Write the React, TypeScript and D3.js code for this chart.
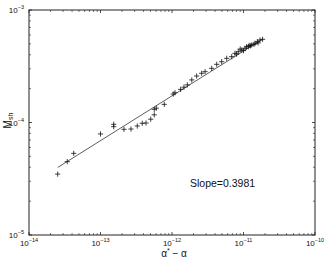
import React from "react";
import * as d3 from "d3";

const xValues = [
  2.52e-14, 3.43e-14, 4.22e-14, 1.0e-13, 1.53e-13, 1.53e-13, 2.13e-13, 2.67e-13,
  3.27e-13, 3.84e-13, 4.33e-13, 5.04e-13, 5.65e-13, 5.65e-13, 6.03e-13, 7.8e-13,
  1.04e-12, 1.1e-12, 1.32e-12, 1.47e-12, 1.64e-12, 1.89e-12, 2.21e-12, 2.6e-12,
  2.9e-12, 3.59e-12, 4.22e-12, 4.95e-12, 5.82e-12, 6.84e-12, 7.6e-12, 8.45e-12,
  9.44e-12, 1.05e-11, 1.17e-11, 1.3e-11, 1.45e-11, 1.56e-11, 1.7e-11, 1.85e-11,
  9.0e-12, 1.0e-11, 1.1e-11, 1.2e-11, 1.4e-11, 1.6e-11, 8.0e-12, 1.25e-11,
];
const yValues = [
  3.48e-5, 4.49e-5, 5.32e-5, 7.91e-5, 9.18e-5, 9.64e-5, 8.7e-5, 8.75e-5,
  9.31e-5, 9.84e-5, 9.9e-5, 1.07e-4, 1.17e-4, 1.31e-4, 1.34e-4, 1.45e-4,
  1.79e-4, 1.84e-4, 1.97e-4, 2.06e-4, 2.16e-4, 2.39e-4, 2.59e-4, 2.74e-4,
  2.83e-4, 3.03e-4, 3.29e-4, 3.47e-4, 3.72e-4, 3.85e-4, 4.12e-4, 4.26e-4,
  4.41e-4, 4.57e-4, 4.72e-4, 4.89e-4, 5.06e-4, 5.23e-4, 5.41e-4, 5.49e-4,
  4.5e-4, 4.35e-4, 4.7e-4, 4.85e-4, 4.95e-4, 5.1e-4, 4.05e-4, 4.8e-4,
];
const fitSlope = 0.3981;
const fitLogIntercept = 1.014;
const xDecades = [-14, -13, -12, -11, -10];
const yDecades = [-5, -4, -3];
const xLabelMain = "α";
const xLabelSup = "*";
const xLabelTail = " − α";
const yLabelMain = "M";
const yLabelSub = "sh";
const slopeText = "Slope=0.3981";

const W = 327;
const H = 258;
const L = 29, R = 315, T = 10, B = 235;

export default function App() {
  const x = d3.scaleLog().domain([1e-14, 1e-10]).range([L, R]);
  const y = d3.scaleLog().domain([1e-5, 1e-3]).range([B, T]);
  const ink = "#222";
  const tl = 3;

  const minorX: number[] = [];
  for (let d = -14; d < -10; d++) for (let k = 2; k <= 9; k++) minorX.push(k * Math.pow(10, d));
  const minorY: number[] = [];
  for (let d = -5; d < -3; d++) for (let k = 2; k <= 9; k++) minorY.push(k * Math.pow(10, d));

  const xmin = d3.min(xValues)!;
  const xmax = d3.max(xValues)!;
  const fit = (v: number) => Math.pow(10, fitLogIntercept + fitSlope * Math.log10(v));
  const line = d3.line<number>().x((v) => x(v)).y((v) => y(fit(v)));

  const font = "'Liberation Sans', Arial, Helvetica, sans-serif";
  const ms = 2.6;

  return (
    <svg width={W} height={H} style={{ position: "absolute", left: 0, top: 0, background: "#fff" }} fontFamily={font}>
      <rect x={0} y={0} width={W} height={H} fill="#fff" />
      <path d={line([xmin, xmax]) || ""} stroke="#333" strokeWidth={0.8} fill="none" />
      {xValues.map((xv, i) => {
        const px = x(xv), py = y(yValues[i]);
        return (
          <g key={i} stroke="#111" strokeWidth={0.8}>
            <line x1={px - ms} x2={px + ms} y1={py} y2={py} />
            <line x1={px} x2={px} y1={py - ms} y2={py + ms} />
          </g>
        );
      })}
      <rect x={L} y={T} width={R - L} height={B - T} fill="none" stroke={ink} strokeWidth={1} />
      {xDecades.map((d) => {
        const px = x(Math.pow(10, d));
        return (
          <g key={"xt" + d} stroke={ink} strokeWidth={0.8}>
            <line x1={px} x2={px} y1={B} y2={B - tl} />
            <line x1={px} x2={px} y1={T} y2={T + tl} />
          </g>
        );
      })}
      {minorX.map((v, i) => {
        const px = x(v);
        return (
          <g key={"xm" + i} stroke={ink} strokeWidth={0.6}>
            <line x1={px} x2={px} y1={B} y2={B - 2} />
            <line x1={px} x2={px} y1={T} y2={T + 2} />
          </g>
        );
      })}
      {yDecades.map((d) => {
        const py = y(Math.pow(10, d));
        return (
          <g key={"yt" + d} stroke={ink} strokeWidth={0.8}>
            <line x1={L} x2={L + tl} y1={py} y2={py} />
            <line x1={R} x2={R - tl} y1={py} y2={py} />
          </g>
        );
      })}
      {minorY.map((v, i) => {
        const py = y(v);
        return (
          <g key={"ym" + i} stroke={ink} strokeWidth={0.6}>
            <line x1={L} x2={L + 2} y1={py} y2={py} />
            <line x1={R} x2={R - 2} y1={py} y2={py} />
          </g>
        );
      })}
      {xDecades.map((d) => (
        <text key={"xl" + d} x={x(Math.pow(10, d))} y={246} textAnchor="middle" fontSize={8} fill="#111">
          10<tspan fontSize={5.5} dy={-4}>{String(d).replace("-", "−")}</tspan>
        </text>
      ))}
      {yDecades.map((d) => (
        <text key={"yl" + d} x={24} y={y(Math.pow(10, d)) + 3} textAnchor="end" fontSize={8} fill="#111">
          10<tspan fontSize={5.5} dy={-4}>{String(d).replace("-", "−")}</tspan>
        </text>
      ))}
      <text x={174} y={257} textAnchor="middle" fontSize={10} fill="#111">
        {xLabelMain}
        <tspan fontSize={7} dy={-4}>{xLabelSup}</tspan>
        <tspan dy={4}>{xLabelTail}</tspan>
      </text>
      <text transform={`translate(11,${(T + B) / 2 - 2}) rotate(-90)`} textAnchor="middle" fontSize={10} fill="#111">
        {yLabelMain}
        <tspan fontSize={7} dy={2}>{yLabelSub}</tspan>
      </text>
      <text x={190} y={187} fontSize={10.5} fill="#111">{slopeText}</text>
    </svg>
  );
}
